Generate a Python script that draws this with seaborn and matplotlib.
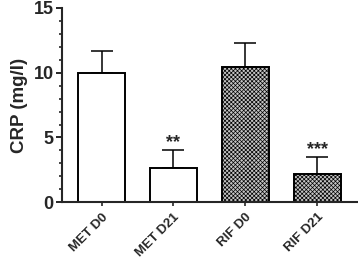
import numpy as np
import pandas as pd
import matplotlib
matplotlib.use('Agg')
import matplotlib.pyplot as plt
from matplotlib.ticker import MultipleLocator
import seaborn as sns

# Values
groups = ['MET D0', 'MET D21', 'RIF D0', 'RIF D21']
crp_mean = [10.0, 2.65, 10.45, 2.2]
crp_sem = [1.7, 1.4, 1.85, 1.3]
signif = ['', '**', '', '***']

df = pd.DataFrame({'group': groups, 'crp': crp_mean})

sns.set_style('ticks')
plt.rcParams['font.family'] = ['Liberation Sans', 'DejaVu Sans']
plt.rcParams['hatch.linewidth'] = 0.5

fig = plt.figure(figsize=(3.58, 2.63), dpi=100)
ax = fig.add_axes([0.173, 0.231, 0.824, 0.739])

sns.barplot(data=df, x='group', y='crp', ax=ax, errorbar=None, width=0.65,
            color='white', edgecolor='black', linewidth=1.4, zorder=2)

# RIF bars: grey checkered fill
for i, patch in enumerate(ax.patches):
    if groups[i].startswith('RIF'):
        patch.set_facecolor('#c4c4c4')
        patch.set_hatch('xxxxxxxx')

# upper-only SEM bars
ax.errorbar(np.arange(len(groups)), crp_mean,
            yerr=[np.zeros(len(groups)), crp_sem],
            fmt='none', ecolor='black', elinewidth=1.1, capsize=8, capthick=1.1,
            zorder=1)

for i, s in enumerate(signif):
    if s:
        ax.text(i, crp_mean[i] + crp_sem[i] - 0.1, s, ha='center', va='bottom',
                fontsize=13, fontweight='bold')

ax.set_ylim(0, 15)
ax.set_xlim(-0.55, 3.55)
ax.set_yticks([0, 5, 10, 15])
ax.yaxis.set_minor_locator(MultipleLocator(1))
ax.tick_params(axis='y', which='major', length=4, width=1.4, labelsize=13, pad=2)
ax.tick_params(axis='y', which='minor', length=2.5, width=1.2)
ax.tick_params(axis='x', length=3, width=1.2, labelsize=9.5)
for lab in ax.get_yticklabels():
    lab.set_fontweight('bold')
ax.set_xticks(range(len(groups)))
ax.set_xticklabels(groups, rotation=45, ha='right', rotation_mode='anchor',
                   fontweight='bold')

ax.set_xlabel('')
ax.set_ylabel('CRP (mg/l)', fontsize=13.5, fontweight='bold', labelpad=4)

for side in ['top', 'right']:
    ax.spines[side].set_visible(False)
for side in ['left', 'bottom']:
    ax.spines[side].set_linewidth(1.5)

fig.savefig('out.png', dpi=100)
